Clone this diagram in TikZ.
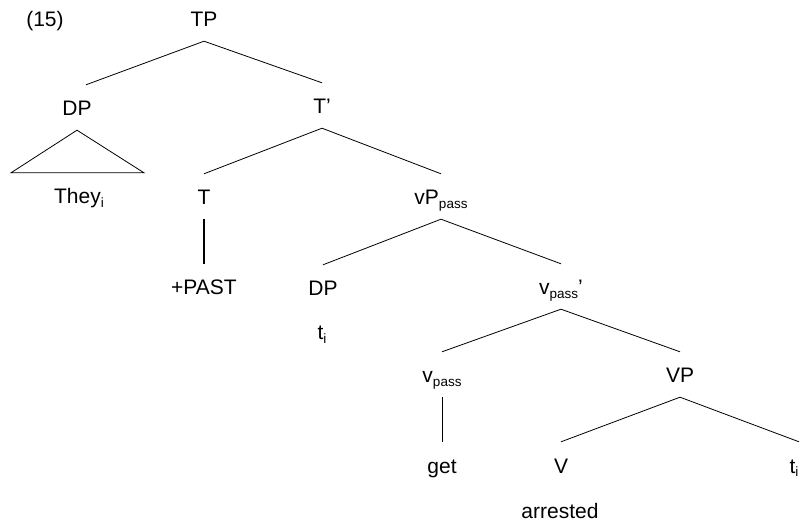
\documentclass[tikz,border=0pt]{standalone}
\usepackage{fontspec}
\setmainfont{Liberation Sans}
\usetikzlibrary{positioning}
\newcommand{\sbs}[1]{\raisebox{-3.5pt}{\fontsize{13.5}{13.5}\selectfont #1}}

\begin{document}
\begin{tikzpicture}[x=1pt,y=-1pt,
  cat/.style={inner sep=0pt,text height=31pt,text depth=14pt,anchor=base,
    font=\fontsize{21}{25}\selectfont},
  br/.style={line width=0.8pt}]
  \useasboundingbox (0,0) rectangle (801,521);
  \node[cat] (ex) at (45,27) {(15)};
  \node[cat] (tp) at (204,27) {TP};
  \node[cat] (dps) at (77,116) {DP};
  \node[cat] (tbar) at (322,114) {T’};
  \node[cat] (they) at (79,204) {They\sbs{i}};
  \node[cat] (t) at (204,205) {T};
  \node[cat] (vpp) at (441,205) {vP\sbs{pass}};
  \node[cat] (past) at (204,295) {+PAST};
  \node[cat] (dpo) at (323,296) {DP};
  \node[cat] (trace) at (322,340) {t\sbs{i}};
  \node[cat] (vbar) at (561,295) {v\sbs{pass}’};
  \node[cat] (v) at (442,383) {v\sbs{pass}};
  \node[cat] (vp) at (680,383) {VP};
  \node[cat] (get) at (442,473) {get};
  \node[cat] (verb) at (561,473) {V};
  \node[cat] (tobj) at (794,473) {t\sbs{i}};
  \node[cat] (arr) at (560,518) {arrested};
  \draw[br] ([xshift=9pt]dps.north) -- (tp.south) -- (tbar.north);
  \draw[br] (dps.south) -- ([xshift=-68pt]they.north) -- ([xshift=65pt]they.north) -- cycle;
  \draw[br] (t.north) -- (tbar.south) -- (vpp.north);
  \draw[line width=1.8pt] (t.south) -- (t.south |- past.north);
  \draw[br] (dpo.north) -- (vpp.south) -- (vbar.north);
  \draw[br] (v.north) -- (vbar.south) -- (vp.north);
  \draw[br] (v.south) -- (v.south |- get.north);
  \draw[br] (verb.north) -- (vp.south) -- ([xshift=5pt]tobj.north);
\end{tikzpicture}
\end{document}
